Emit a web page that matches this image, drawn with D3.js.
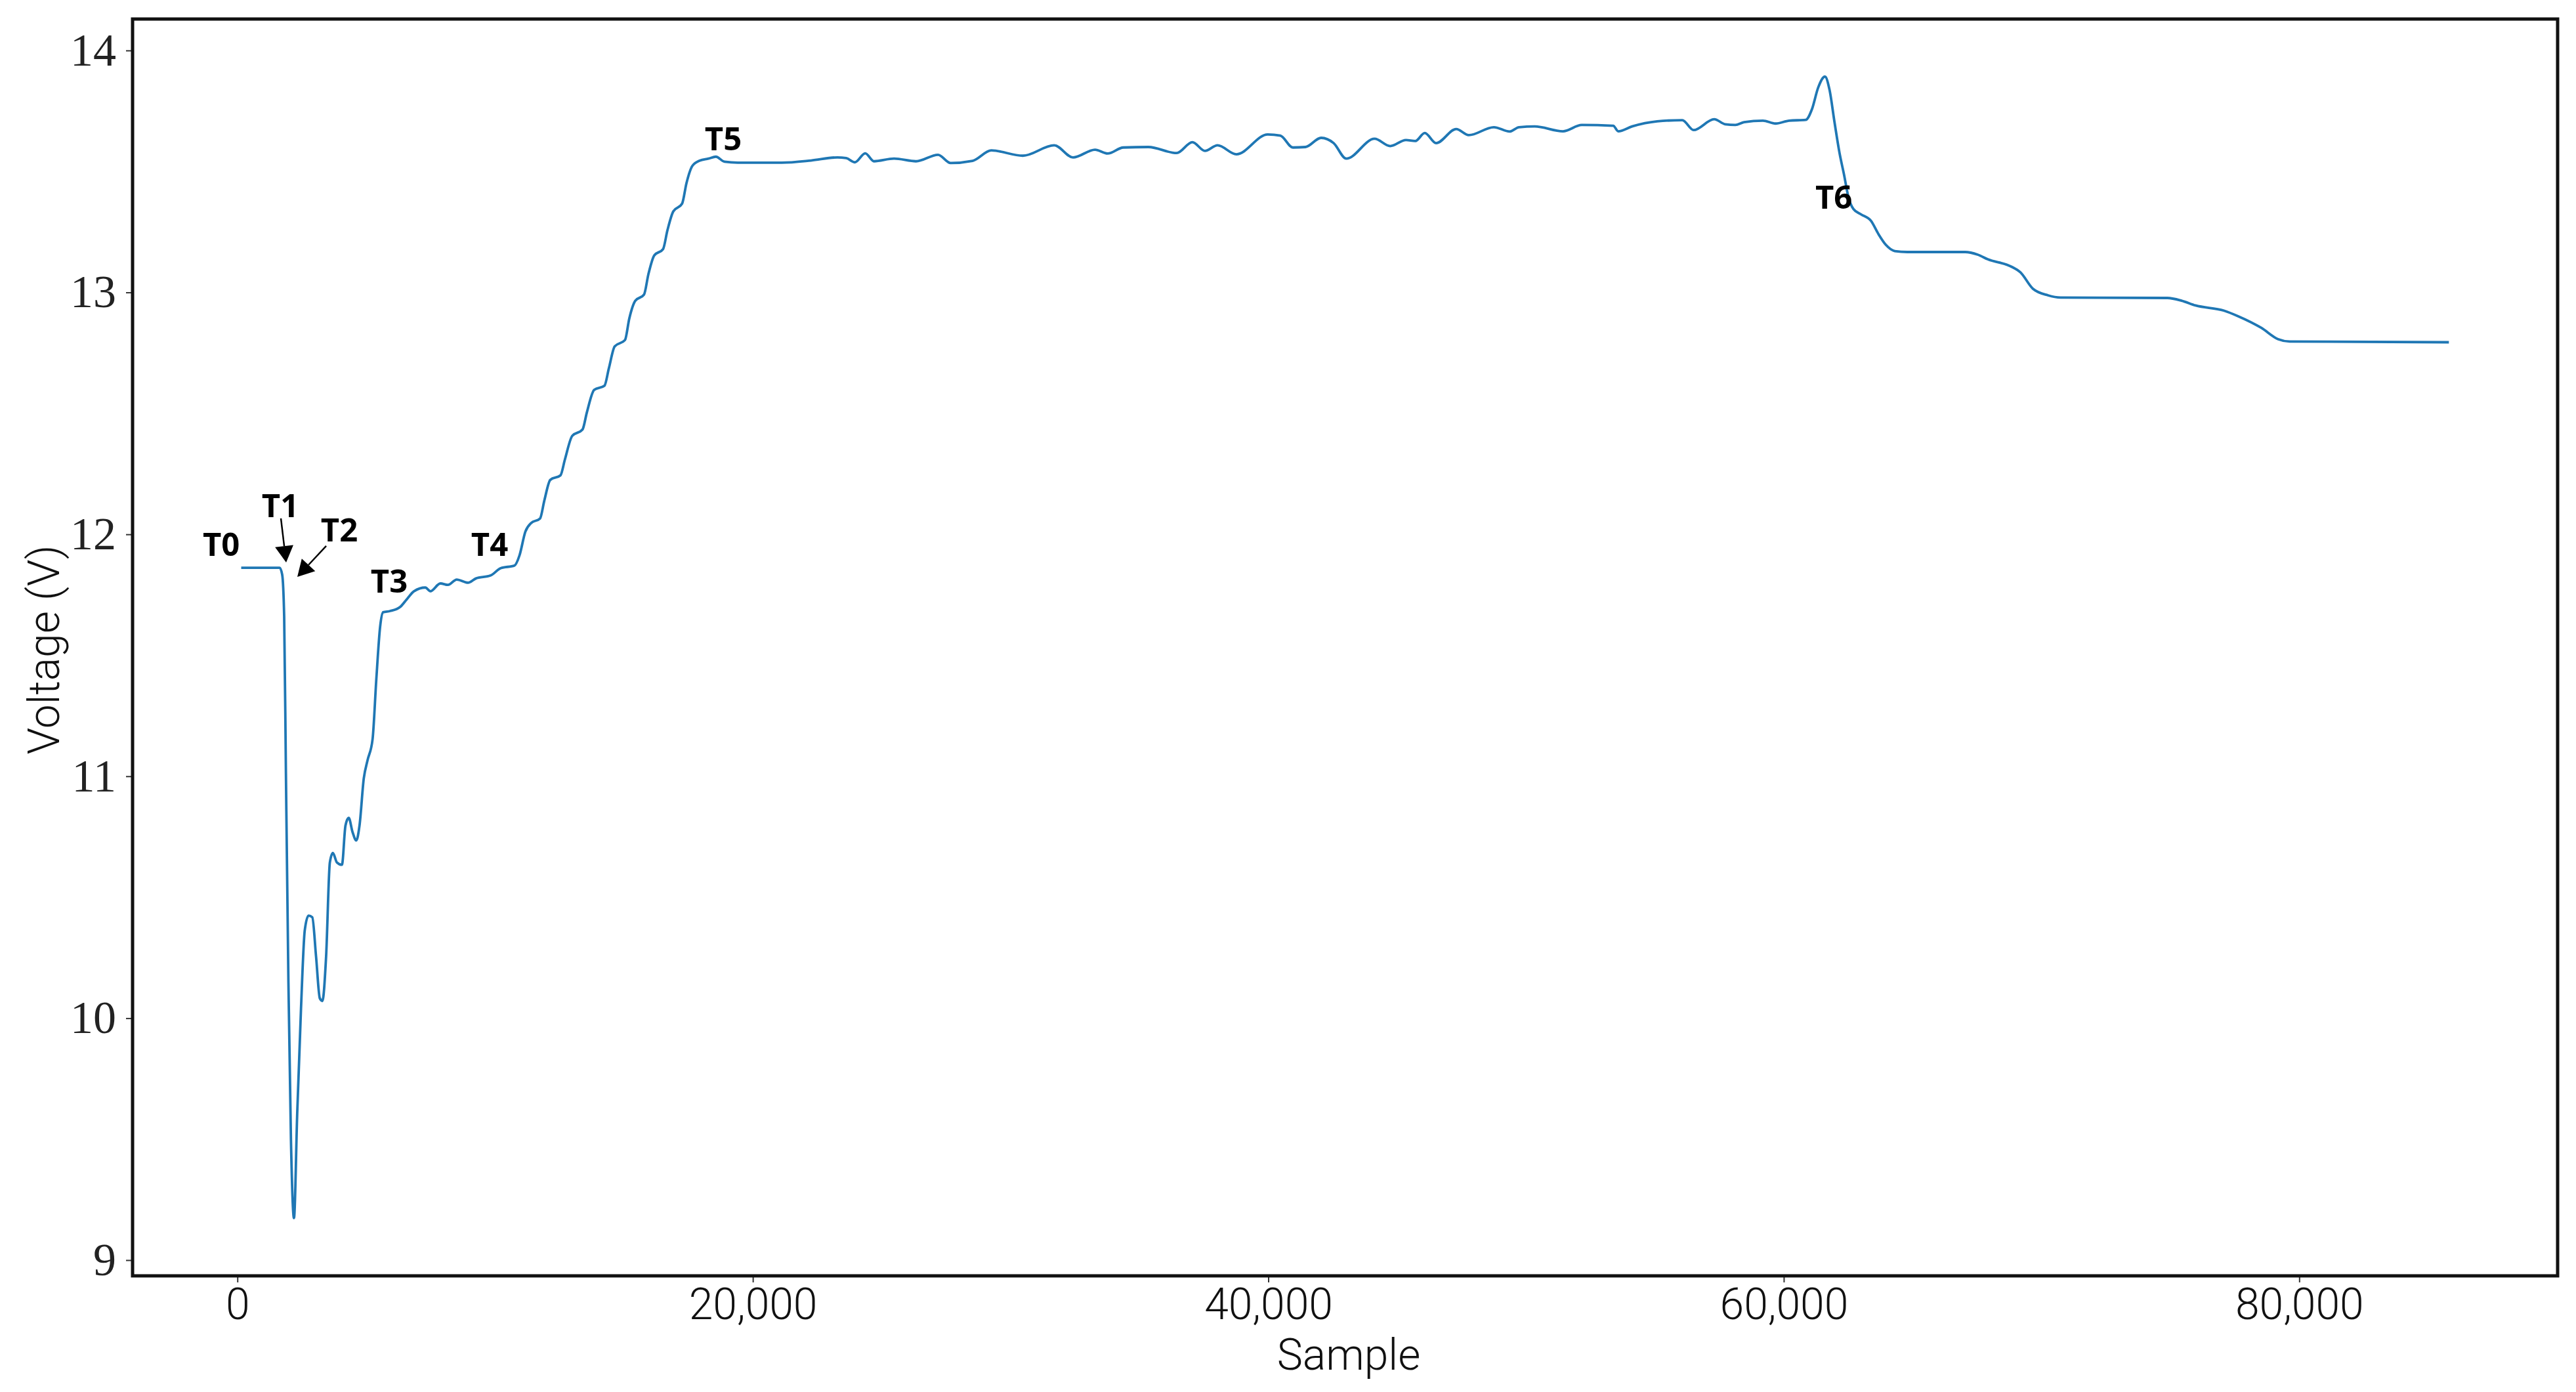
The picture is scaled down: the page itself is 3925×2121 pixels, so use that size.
<!DOCTYPE html>
<html>
<head>
<meta charset="utf-8">
<script src="https://cdn.jsdelivr.net/npm/d3@7"></script>
<style>
    body { margin: 0; background: #fff; }
</style>
</head>
<body>
<div id="chart"></div>
<script>
'use strict';

// Data
const samples = [
    148, 1639, 1737, 1815, 1883, 1980, 2078, 2195, 2321, 2468, 2614, 2760, 2906, 3052, 3198, 3296,
    3442, 3588, 3705, 3861, 4056, 4193, 4319, 4466, 4612, 4738, 4904, 5050, 5245, 5391, 5538, 5654,
    5927, 6317, 6561, 6853, 7292, 7487, 7877, 8169, 8510, 8952, 9242, 9826, 10216, 10752,
    10946, 11173, 11400, 11741, 11912, 12139, 12537, 12707, 12992, 13390, 13560, 13844, 14242, 14413,
    14640, 15038, 15208, 15436, 15777, 15947, 16175, 16516, 16686, 16914, 17255, 17425, 17653, 17937,
    18278, 18562, 18903, 19415, 21120, 22257, 23280, 23621, 23962, 24359, 24700,
    25478, 26331, 27184, 27671, 28524, 29255, 30474, 31692, 32423, 33276, 33764, 34373, 35348, 36445,
    37054, 37541, 38029, 38760, 39978, 40466, 40953, 41440, 42050, 42537, 43025, 44121, 44730, 45340,
    45705, 46071, 46509, 47289, 47777, 48751, 49361, 49726, 50336, 51432, 52163, 53382, 53577, 54113,
    55088, 56063, 56501, 57300, 57729, 58119, 58460, 59191, 59678, 60214, 60848,
    61092, 61335, 61598, 61774, 61969, 62163, 62339, 62505, 62700, 62992, 63382, 63674, 63966, 64308,
    64795, 67037, 67524, 67914, 68839, 69180, 69667, 70252, 70740,
    74881, 75429, 75977, 77073, 77621, 78535, 79174, 79631, 85806
];
const volts = [
    11.862, 11.862, 11.834, 11.661, 11.012, 10.147, 9.498, 9.174, 9.606, 10.039, 10.363, 10.424, 10.417, 10.255, 10.082, 10.071,
    10.255, 10.644, 10.683, 10.644, 10.634, 10.796, 10.828, 10.770, 10.735, 10.796, 10.991, 11.066, 11.153, 11.402, 11.618, 11.678,
    11.683, 11.700, 11.730, 11.765, 11.780, 11.765, 11.797, 11.791, 11.813, 11.800, 11.817, 11.830, 11.860, 11.871,
    11.913, 12.011, 12.047, 12.065, 12.141, 12.225, 12.244, 12.309, 12.407, 12.433, 12.504, 12.597, 12.614, 12.686,
    12.777, 12.803, 12.893, 12.965, 12.991, 13.075, 13.153, 13.179, 13.257, 13.335, 13.367, 13.452, 13.523, 13.545,
    13.553, 13.561, 13.540, 13.536, 13.536, 13.545, 13.558, 13.555, 13.538, 13.575, 13.542,
    13.553, 13.542, 13.569, 13.535, 13.544, 13.587, 13.565, 13.608, 13.558, 13.590, 13.574, 13.599, 13.601, 13.576,
    13.621, 13.585, 13.608, 13.571, 13.653, 13.648, 13.599, 13.601, 13.639, 13.617, 13.553, 13.635, 13.605, 13.630,
    13.626, 13.659, 13.617, 13.675, 13.650, 13.683, 13.665, 13.683, 13.686, 13.666, 13.692, 13.689, 13.666, 13.686,
    13.707, 13.712, 13.671, 13.716, 13.695, 13.692, 13.704, 13.710, 13.698, 13.710, 13.713,
    13.757, 13.847, 13.892, 13.838, 13.703, 13.576, 13.486, 13.395, 13.345, 13.323, 13.296, 13.241, 13.196, 13.171,
    13.167, 13.167, 13.156, 13.137, 13.106, 13.083, 13.015, 12.988, 12.979,
    12.977, 12.966, 12.946, 12.925, 12.902, 12.853, 12.807, 12.797, 12.794
];

// Axis ticks
const xTicks = [0, 20000, 40000, 60000, 80000];
const yTicks = [9, 10, 11, 12, 13, 14];
const xDomain = [-4067, 90025];
const yDomain = [8.935, 14.130];

// Stage labels (anchor in data units)
const stageNames = ['T0', 'T1', 'T2', 'T3', 'T4', 'T5', 'T6'];
const stageSamples = [-627, 1663, 3955, 5890, 9786, 18852, 61940];
const stageVolts = [11.911, 12.071, 11.971, 11.759, 11.911, 13.588, 13.346];

// Arrows for T1 / T2
const arrowFrom = [[1688, 12.066], [3446, 11.952]];
const arrowTo = [[1892, 11.884], [2325, 11.824]];

class VoltagePlot {

    // Configs
    w = 3925;
    h = 2121;

    constructor(_ref) {
        this.parent = _ref;
        this.data = samples.map((s, i) => ({sample: s, volt: volts[i]}));
        this.initVis();
    }

    initVis() {
        // Get this vis
        const vis = this;

        vis.svg = d3.select(`#${vis.parent}`)
            .append('svg')
            .attr('width', vis.w)
            .attr('height', vis.h)
            .style('display', 'block');

        // Plot box
        vis.box = {left: 202, right: 3897, top: 29, bottom: 1944};

        // Scales
        vis.x = d3.scaleLinear()
            .domain(xDomain)
            .range([vis.box.left, vis.box.right]);
        vis.y = d3.scaleLinear()
            .domain(yDomain)
            .range([vis.box.bottom, vis.box.top]);

        vis.buildAxes();
        vis.drawLine();
        vis.drawLabels();
        vis.buildFrame();
    }

    /*
    buildAxes
     */
    buildAxes() {
        const vis = this;

        // Y axis
        const yAxis = d3.axisLeft(vis.y)
            .tickValues(yTicks)
            .tickSize(10)
            .tickPadding(15)
            .tickFormat(d3.format('d'));
        vis.yG = vis.svg.append('g')
            .attr('transform', `translate(${vis.box.left}, 0)`)
            .call(yAxis);
        vis.yG.select('.domain').remove();
        vis.yG.selectAll('line').attr('stroke', '#333').attr('stroke-width', 2);
        vis.yG.selectAll('text')
            .attr('fill', '#222')
            .style('font-family', '"Liberation Serif", "DejaVu Serif", serif')
            .style('font-size', '70px');

        // X axis
        const xAxis = d3.axisBottom(vis.x)
            .tickValues(xTicks)
            .tickSize(10)
            .tickPadding(9)
            .tickFormat(d3.format(','));
        vis.xG = vis.svg.append('g')
            .attr('transform', `translate(0, ${vis.box.bottom})`)
            .call(xAxis);
        vis.xG.select('.domain').remove();
        vis.xG.selectAll('line').attr('stroke', '#333').attr('stroke-width', 2);
        vis.xG.selectAll('text')
            .attr('fill', '#111')
            .style('font-family', 'Roboto, "Noto Sans", sans-serif')
            .style('font-weight', 300)
            .style('font-size', '66px');

        // Axis titles
        vis.svg.append('text')
            .attr('x', 2055)
            .attr('y', 2087)
            .attr('text-anchor', 'middle')
            .style('font-family', 'Roboto, "Noto Sans", sans-serif')
            .style('font-weight', 300)
            .style('font-size', '66px')
            .attr('fill', '#111')
            .text('Sample');
        vis.svg.append('text')
            .attr('transform', 'translate(90, 990) rotate(-90)')
            .attr('text-anchor', 'middle')
            .style('font-family', 'Roboto, "Noto Sans", sans-serif')
            .style('font-weight', 300)
            .style('font-size', '66px')
            .attr('fill', '#111')
            .text('Voltage (V)');
    }

    /*
    drawLine
     */
    drawLine() {
        const vis = this;

        const line = d3.line()
            .x(d => vis.x(d.sample))
            .y(d => vis.y(d.volt))
            .curve(d3.curveMonotoneX);

        vis.svg.append('path')
            .datum(vis.data)
            .attr('fill', 'none')
            .attr('stroke', '#1f77b4')
            .attr('stroke-width', 3.8)
            .attr('stroke-linejoin', 'round')
            .attr('d', line);
    }

    /*
    drawLabels
     */
    drawLabels() {
        const vis = this;

        vis.labelG = vis.svg.append('g').attr('class', 'labelG');
        vis.labelG.selectAll('text')
            .data(stageNames)
            .join('text')
            .attr('x', (d, i) => vis.x(stageSamples[i]))
            .attr('y', (d, i) => vis.y(stageVolts[i]))
            .attr('text-anchor', 'middle')
            .style('font-family', '"Open Sans", "Noto Sans", sans-serif')
            .style('font-weight', 700)
            .style('font-size', '49px')
            .attr('fill', '#000')
            .text(d => d);

        // Arrows
        const headLen = 25;
        const headHalf = 14;
        arrowFrom.forEach((a, i) => {
            const x0 = vis.x(a[0]), y0 = vis.y(a[1]);
            const x1 = vis.x(arrowTo[i][0]), y1 = vis.y(arrowTo[i][1]);
            const ang = Math.atan2(y1 - y0, x1 - x0);
            const bx = x1 - headLen * Math.cos(ang), by = y1 - headLen * Math.sin(ang);
            const px = -Math.sin(ang) * headHalf, py = Math.cos(ang) * headHalf;
            vis.labelG.append('line')
                .attr('x1', x0).attr('y1', y0)
                .attr('x2', bx).attr('y2', by)
                .attr('stroke', '#000')
                .attr('stroke-width', 2.5);
            vis.labelG.append('path')
                .attr('d', `M${x1},${y1}L${bx + px},${by + py}L${bx - px},${by - py}Z`)
                .attr('fill', '#000');
        });
    }

    /*
    buildFrame
     */
    buildFrame() {
        const vis = this;
        vis.svg.append('rect')
            .attr('x', vis.box.left)
            .attr('y', vis.box.top)
            .attr('width', vis.box.right - vis.box.left)
            .attr('height', vis.box.bottom - vis.box.top)
            .attr('fill', 'none')
            .attr('stroke', '#111')
            .attr('stroke-width', 5);
    }
}

new VoltagePlot('chart');
</script>
</body>
</html>
